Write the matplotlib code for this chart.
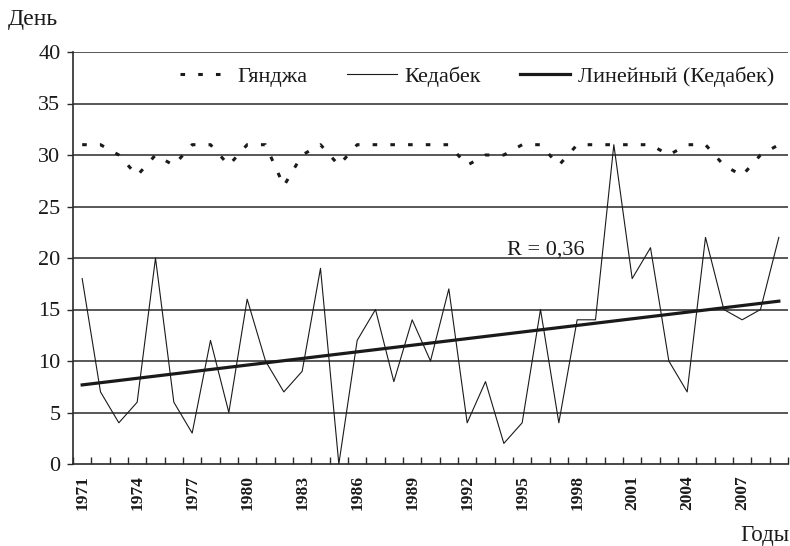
import matplotlib
matplotlib.use("Agg")
import matplotlib.pyplot as plt
import numpy as np

years = list(range(1971, 2010))
ganja = [31, 31, 30, 28, 30, 29, 31, 31, 29, 31, 31, 27, 30, 31, 29, 31, 31, 31, 31, 31,
         31, 29, 30, 30, 31, 31, 29, 31, 31, 31, 31, 31, 30, 31, 31, 29, 28, 30, 31]
kedabek = [18, 7, 4, 6, 20, 6, 3, 12, 5, 16, 10, 7, 9, 19, 0, 12, 15, 8, 14, 10,
           17, 4, 8, 2, 4, 15, 4, 14, 14, 31, 18, 21, 10, 7, 22, 15, 14, 15, 22]
series_names = ["Гянджа", "Кедабек", "Линейный (Кедабек)"]
y_ticks = [0, 5, 10, 15, 20, 25, 30, 35, 40]
x_tick_years = list(range(1971, 2010, 3))
r_label = "R = 0,36"

plt.rcParams['font.family'] = ['Liberation Serif', 'DejaVu Serif']
ink = '#1a1a1a'

fig = plt.figure(figsize=(7.9, 5.46), dpi=100)
ax = fig.add_axes([73/790, 1-464/546, (788-73)/790, (464-52)/546])

x = np.arange(len(years))
coef = np.polyfit(x, kedabek, 1)
trend = np.polyval(coef, x)

for yv in y_ticks[1:]:
    ax.axhline(yv, color='#2a2a2a', lw=1.1, zorder=1)

ax.plot(x, ganja, color=ink, lw=2.2, linestyle=(0, (1.5, 4.3)), label=series_names[0], zorder=3)
ax.plot(x, kedabek, color=ink, lw=0.8, label=series_names[1], zorder=3)
ax.plot(x, trend, color=ink, lw=2.3, label=series_names[2], zorder=4)

ax.set_xlim(-0.5, len(years) - 0.5)
ax.set_ylim(0, 40)
ax.set_yticks(y_ticks)
ax.set_yticklabels([str(v) for v in y_ticks], fontsize=16, color=ink)
ax.tick_params(axis='y', direction='out', length=4, width=1, color='#2a2a2a', pad=5)

tick_pos = [years.index(yr) for yr in x_tick_years]
ax.set_xticks(tick_pos)
ax.set_xticklabels([str(v) for v in x_tick_years], rotation=90, fontsize=12.5,
                   fontweight='bold', color=ink)
ax.tick_params(axis='x', which='major', length=0, pad=8)
ax.set_xticks(np.arange(-0.5, len(years), 1.0), minor=True)
ax.tick_params(axis='x', which='minor', direction='in', length=5, width=1, color='#2a2a2a')

for s in ['top', 'right']:
    ax.spines[s].set_visible(False)
for s in ['left', 'bottom']:
    ax.spines[s].set_color('#2a2a2a')
    ax.spines[s].set_linewidth(1.2)

ax.text(years.index(1996) + 0.3, 20.8, r_label, fontsize=16, color=ink, ha='center', va='center')

leg = ax.legend(loc='center', bbox_to_anchor=(477/790, 1-77/546), bbox_transform=fig.transFigure,
                ncol=3, frameon=False, fontsize=16, handlelength=2.25, handletextpad=0.36,
                columnspacing=1.75)
for t in leg.get_texts():
    t.set_color(ink)

fig.text(8/790, 1-20/546, "День", fontsize=17, color=ink, ha='left', va='center')
fig.text(789/790, 1-535/546, "Годы", fontsize=16.5, color=ink, ha='right', va='center')

fig.savefig("out.png", dpi=100)
